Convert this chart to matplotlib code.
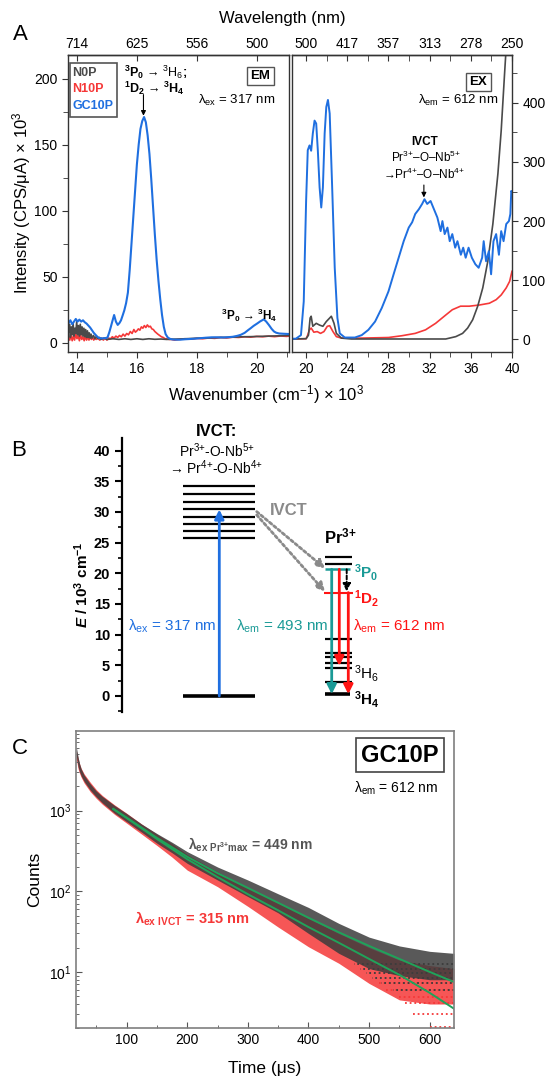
import matplotlib
matplotlib.use('Agg')
import matplotlib.pyplot as plt
from matplotlib.ticker import MultipleLocator, FixedLocator, NullLocator, LogLocator, NullFormatter
from matplotlib.patches import Rectangle

plt.rcParams['font.family'] = ['Liberation Sans', 'DejaVu Sans']
plt.rcParams['mathtext.fontset'] = 'custom'
plt.rcParams['mathtext.default'] = 'regular'
plt.rcParams['mathtext.rm'] = 'Liberation Sans'
plt.rcParams['mathtext.bf'] = 'Liberation Sans:bold'
plt.rcParams['mathtext.it'] = 'Liberation Sans:italic:bold'

# ---------------- DATA ----------------
# Panel A, emission (lambda_ex = 317 nm), wavenumber x 10^3 cm-1
em_gc10p_x = [13.72, 13.78, 13.84, 13.9, 13.96, 14.02, 14.08, 14.14, 14.2, 14.26, 14.32, 14.38, 14.44, 14.5,
              14.56, 14.62, 14.68, 14.75, 14.85, 14.95, 15.02, 15.08, 15.13, 15.19, 15.24, 15.3, 15.36, 15.42,
              15.47, 15.53, 15.58, 15.64, 15.7, 15.76, 15.82, 15.88, 15.94, 16.0, 16.06, 16.12, 16.18, 16.24,
              16.3, 16.36, 16.42, 16.48, 16.54, 16.6, 16.66, 16.72, 16.78, 16.84, 16.9, 16.96, 17.03, 17.1,
              17.18, 17.3, 17.45, 17.6, 17.75, 17.9, 18.1, 18.3, 18.5, 18.7, 18.9, 19.05, 19.2, 19.35, 19.47,
              19.6, 19.7, 19.8, 19.9, 20.02, 20.12, 20.24, 20.32, 20.41, 20.5, 20.58, 20.65, 20.75, 20.9, 21.08]
em_gc10p_y = [15, 17, 14, 16, 18, 16, 17.5, 16, 17, 15.5, 14.5, 13, 11.5, 9.5,
              7.5, 6, 4.5, 3.5, 3.3, 3.5, 4, 8, 12, 17, 21, 16, 13.5, 15,
              17, 21, 24.5, 30, 38, 55, 75, 95, 115, 135, 150, 162, 168, 171,
              167, 157, 143, 124, 103, 82, 63, 47, 33, 21, 12, 6.5, 4, 3,
              2.5, 2.3, 2.3, 2.6, 2.8, 3.0, 3.4, 3.8, 4.1, 4.1, 4.0, 4.2, 4.5, 5.2, 6.0,
              7.5, 9.3, 11, 12.8, 14.6, 16.2, 17.7, 16, 13.4, 10.5, 8.5, 7.6, 7.0, 6.8, 6.6]
em_n10p_x = [13.72, 13.76, 13.8, 13.84, 13.88, 13.92, 13.96, 14.0, 14.04, 14.08, 14.12, 14.16, 14.2, 14.24,
             14.28, 14.32, 14.36, 14.4, 14.44, 14.48, 14.52, 14.56, 14.6, 14.64, 14.7, 14.76, 14.82, 14.88,
             14.94, 15.0, 15.06, 15.12, 15.18, 15.24, 15.3, 15.36, 15.42, 15.48, 15.54, 15.6, 15.66, 15.72,
             15.78, 15.84, 15.9, 15.95, 16.0, 16.05, 16.1, 16.15, 16.2, 16.25, 16.3, 16.35, 16.4, 16.45,
             16.5, 16.55, 16.6, 16.65, 16.7, 16.76, 16.82, 16.88, 16.94, 17.0, 17.08, 17.16, 17.25, 17.4,
             17.6, 17.8, 18.0, 18.2, 18.4, 18.6, 18.8, 19.0, 19.2, 19.4, 19.6, 19.8, 20.0, 20.2, 20.4,
             20.6, 20.8, 21.0, 21.08]
em_n10p_y = [4, 2, 6, 1.5, 5, 2, 7, 3, 5.5, 1.5, 6, 2.5, 4.5, 1.5,
             5, 2, 4.5, 2, 5, 2.5, 4, 2, 4, 2.5, 3.5, 2, 3.5, 2,
             3.5, 2, 3.5, 3, 4.5, 3.5, 5, 4, 5.5, 4.5, 6.5, 5, 7, 6,
             8.5, 7, 10, 8, 9, 10.5, 9.5, 12, 11, 13, 11.5, 13.5, 12, 12.5,
             10.5, 10, 8.5, 7.5, 6.5, 5.5, 4.5, 4, 3, 3, 2.5, 2.5, 2, 2.5,
             3, 2.7, 3.3, 3, 3.6, 3.3, 4, 3.6, 4.2, 4, 4.5, 4.2, 4.8, 4.5, 5,
             4.6, 5.1, 4.8, 5]
em_n0p_x = [13.72, 13.75, 13.78, 13.81, 13.84, 13.87, 13.9, 13.93, 13.96, 13.99, 14.02, 14.05, 14.08, 14.11,
            14.14, 14.17, 14.2, 14.23, 14.26, 14.29, 14.32, 14.35, 14.38, 14.41, 14.44, 14.47, 14.5, 14.55,
            14.6, 14.65, 14.7, 14.75, 14.8, 14.9, 15.0, 15.2, 15.4, 15.6, 15.8, 16.0, 16.2, 16.4, 16.6,
            16.8, 17.0, 17.2, 17.4, 17.6, 17.8, 18.0, 18.3, 18.6, 18.9, 19.2, 19.5, 19.8, 20.1, 20.4, 20.7, 21.08]
em_n0p_y = [8, 14, 4, 12, 6, 15, 5, 11, 7, 16, 6, 13, 5, 14,
            6, 12, 5, 11, 4.5, 10, 4, 9, 4, 7.5, 3.5, 6.5, 3.5, 5.5,
            3, 5, 3, 4, 2.5, 3.5, 2.5, 3, 2.5, 3, 2.5, 3, 2.5, 3, 2.6,
            2.8, 2.5, 2.7, 2.8, 3, 3.2, 3.4, 3.5, 3.8, 4, 4.2, 4.5, 4.6, 4.8, 5, 5.2, 5.5]

# Panel A, excitation (lambda_em = 612 nm)
ex_gc10p_x = [18.6, 19.0, 19.5, 19.77, 20.0, 20.16, 20.33, 20.49, 20.65, 20.82, 20.98, 21.14, 21.31, 21.47,
              21.63, 21.8, 21.96, 22.12, 22.29, 22.52, 22.78, 23.04, 23.27, 23.76, 24.74, 25.4, 26.05, 26.7,
              27.35, 28.0, 28.5, 28.99, 29.48, 29.97, 30.3, 30.6, 30.95, 31.27, 31.5, 31.76, 32.09, 32.42,
              32.75, 33.07, 33.24, 33.46, 33.73, 33.95, 34.2, 34.48, 34.7, 35.03, 35.26, 35.5, 35.78, 36.1,
              36.44, 36.76, 37.1, 37.25, 37.48, 37.75, 37.97, 38.2, 38.46, 38.73, 38.95, 39.18, 39.44, 39.7,
              39.84, 39.93, 40.0]
ex_gc10p_y = [1, 1, 7, 64, 234, 320, 328, 319, 348, 370, 365, 319, 257, 223,
              257, 348, 393, 405, 382, 263, 121, 36, 10, 3, 3, 7, 16, 30,
              53, 81, 110, 138, 166, 189, 198, 212, 220, 229, 237, 229, 234, 220,
              206, 183, 200, 178, 189, 166, 178, 155, 166, 143, 155, 138, 155, 138,
              127, 121, 138, 166, 132, 149, 110, 166, 178, 143, 183, 166, 195, 200,
              212, 251, 249]
ex_n0p_x = [18.6, 20.0, 20.23, 20.39, 20.49, 20.65, 20.98, 21.31, 21.63, 21.96, 22.29, 22.45, 22.71, 22.94,
            23.43, 24.4, 33.56, 34.54, 35.2, 35.69, 36.18, 36.67, 37.16, 37.65, 38.14, 38.63, 38.95, 39.28,
            39.44, 39.77]
ex_n0p_y = [0.5, 1, 7, 36, 39, 22, 27, 24, 22, 30, 36, 39, 27, 10,
            2, 0.5, 0.5, 4.5, 10, 19, 33, 56, 87, 132, 195, 280, 353, 450,
            495, 575]
ex_n10p_x = [18.6, 20.0, 20.1, 20.33, 20.49, 20.75, 21.08, 21.4, 21.73, 22.06, 22.29, 22.61, 22.94, 23.43,
             25.4, 28.0, 29.3, 30.6, 31.6, 32.58, 33.56, 34.2, 35.0, 35.85, 36.83, 37.8, 38.46, 38.95,
             39.44, 39.77, 40.0]
ex_n10p_y = [0.5, 1, 4.5, 16, 19, 12, 13, 10, 13, 22, 23, 13, 4.5, 2,
             2, 3, 6, 10, 16, 27, 41, 50, 56, 56, 58, 61, 67, 75,
             87, 98, 115]

em_ticks = [14, 16, 18, 20]
em_wl_labels = ['714', '625', '556', '500']
ex_ticks = [20, 24, 28, 32, 36, 40]
ex_wl_labels = ['500', '417', '357', '313', '278', '250']

# Panel B, energy levels (10^3 cm-1)
ivct_levels = [34.2, 32.9, 31.6, 30.4, 29.2, 28.0, 26.9, 25.8]
ground_level = 0.0
pr_levels = [22.7, 21.5, 9.24, 6.96, 6.41, 5.43, 4.51, 2.34]
pr_3P0 = 20.65
pr_1D2 = 16.85
pr_3H4 = 0.3
pr_3H6_arrow_end = 4.9
ivct_pump_top = 30.4

# Panel C, decay (counts vs time in us)
t_env = [17, 20, 22, 25, 30, 40, 50, 60, 80, 100, 125, 150, 175, 200, 250, 300, 350, 400, 450, 500, 550, 600, 640]
gray_hi = [6200, 4600, 3900, 3300, 2750, 2150, 1750, 1500, 1160, 920, 680, 520, 405, 310, 200, 138, 93, 63, 40, 27, 21, 18, 17]
gray_lo = [4800, 3500, 3100, 2700, 2300, 1800, 1480, 1250, 930, 730, 540, 395, 300, 222, 138, 86, 54, 30, 17, 11, 9, 8, 8]
red_hi = [5600, 4500, 3900, 3350, 2850, 2250, 1820, 1540, 1180, 930, 680, 510, 390, 285, 175, 112, 72, 46, 30, 20, 14, 12, 11]
red_lo = [4400, 3300, 2950, 2600, 2200, 1720, 1420, 1200, 900, 700, 510, 370, 265, 183, 114, 65, 36, 20.5, 12.8, 7.2, 4.5, 4, 4]
gray_rows = [6.0, 7.2, 8.4, 9.6, 11.0, 12.5]
gray_row_start = [540, 520, 505, 495, 485, 475]
red_rows = [2.05, 3.0, 4.1, 4.9, 6.0, 7.2]
red_row_start = [600, 572, 559, 550, 528, 517]
t_fit = [78, 100, 150, 200, 250, 300, 350, 400, 450, 500, 550, 600, 640]
fit_449 = [1050, 820, 460, 268, 168, 110, 72, 47, 31, 21, 14.5, 10, 7.5]
fit_315 = [1050, 810, 445, 250, 150, 92, 58, 36, 23, 14.5, 9.2, 5.5, 3.5]

# ---------------- STYLE / LAYOUT ----------------
C_GRAY = '#4a4a4a'
C_RED = '#f53838'
C_BLUE = '#1f6fe0'
C_TEAL = '#1a9a96'
C_BRED = '#ff1414'
C_GREEN = '#20a35a'

W, H = 550, 1089
fig = plt.figure(figsize=(W / 100, H / 100), dpi=100)


def rect(l, t, r, b):
    return [l / W, 1 - b / H, (r - l) / W, (b - t) / H]


def ftext(x, y, s, **kw):
    kw.setdefault('ha', 'left')
    kw.setdefault('va', 'center')
    return fig.text(x / W, 1 - y / H, s, **kw)


# ================= PANEL A =================
axEM = fig.add_axes(rect(68, 55, 289, 351.7))
axEX = fig.add_axes(rect(291.7, 55, 512, 351.7))
for ax in (axEM, axEX):
    for s in ax.spines.values():
        s.set_linewidth(1.0)
        s.set_color('#333333')

axEM.plot(em_n10p_x, em_n10p_y, color=C_RED, lw=1.2)
axEM.plot(em_n0p_x, em_n0p_y, color=C_GRAY, lw=1.2)
axEM.plot(em_gc10p_x, em_gc10p_y, color=C_BLUE, lw=1.5)
axEM.set_xlim(13.7, 21.08)
axEM.set_ylim(-6.8, 218)
axEM.xaxis.set_major_locator(FixedLocator(em_ticks))
axEM.xaxis.set_minor_locator(MultipleLocator(1))
axEM.yaxis.set_major_locator(MultipleLocator(50))
axEM.yaxis.set_minor_locator(MultipleLocator(25))
axEM.tick_params(which='both', direction='out', labelsize=10, color='#333333')
axEM.tick_params(which='major', length=4)
axEM.tick_params(which='minor', length=3.5)

axEX.plot(ex_n10p_x, ex_n10p_y, color=C_RED, lw=1.2)
axEX.plot(ex_n0p_x, ex_n0p_y, color=C_GRAY, lw=1.2)
axEX.plot(ex_gc10p_x, ex_gc10p_y, color=C_BLUE, lw=1.4)
axEX.set_xlim(18.6, 40)
axEX.set_ylim(-21, 481)
axEX.xaxis.set_major_locator(FixedLocator(ex_ticks))
axEX.xaxis.set_minor_locator(FixedLocator([22, 26, 30, 34, 38]))
axEX.yaxis.tick_right()
axEX.yaxis.set_major_locator(MultipleLocator(100))
axEX.yaxis.set_minor_locator(MultipleLocator(50))
axEX.tick_params(which='both', direction='out', labelsize=10, color='#333333')
axEX.tick_params(which='major', length=4)
axEX.tick_params(which='minor', length=3.5)

for ax, tks, labs, mins in ((axEM, em_ticks, em_wl_labels, []),
                            (axEX, ex_ticks, ex_wl_labels, [22, 26, 30, 34, 38])):
    sec = ax.secondary_xaxis('top')
    sec.set_ticks(tks, labels=labs)
    sec.xaxis.set_minor_locator(FixedLocator(mins) if mins else NullLocator())
    sec.tick_params(which='both', direction='in', labelsize=10, length=4, color='#333333', pad=3)
    sec.spines['top'].set_linewidth(1.0)
    sec.spines['top'].set_color('#333333')

ftext(20, 35, 'A', fontsize=16, ha='center')
ftext(282, 19, 'Wavelength (nm)', fontsize=12, ha='center')
ftext(266, 395, 'Wavenumber (cm$^{-1}$) × 10$^{3}$', fontsize=12, ha='center')
ftext(22, 203, 'Intensity (CPS/μA) × 10$^{3}$', fontsize=12, ha='center', rotation=90)

# EM legend box
fig.patches.append(Rectangle((70 / W, 1 - 117 / H), 47 / W, 54 / H, transform=fig.transFigure,
                             fill=False, edgecolor='#555555', lw=1.2))
for yy, lab, col in ((73, 'N0P', C_GRAY), (89.5, 'N10P', C_RED), (106, 'GC10P', C_BLUE)):
    ftext(72.5, yy, lab, fontsize=9, fontweight='bold', color=col)

ftext(124, 72, '$^{3}$P$_{0}$ → $\\mathrm{^{3}H_{6}}$;', fontsize=9, fontweight='bold')
ftext(124, 88.5, '$^{1}$D$_{2}$ → $^{3}$H$_{4}$', fontsize=9, fontweight='bold')
axEM.annotate('', xy=(16.22, 172), xytext=(16.22, 188),
              arrowprops=dict(arrowstyle='-|>', lw=0.8, color='k', mutation_scale=7, shrinkA=0, shrinkB=0))
ftext(260.5, 76, 'EM', fontsize=9.5, fontweight='bold', ha='center',
      bbox=dict(boxstyle='square,pad=0.25', fc='white', ec='#555555', lw=1))
ftext(275, 100, 'λ$_{ex}$ = 317 nm', fontsize=9.5, ha='right')
ftext(221, 315, '$^{3}$P$_{0}$ → $^{3}$H$_{4}$', fontsize=8.5, fontweight='bold')

ftext(478.5, 82, 'EX', fontsize=9.5, fontweight='bold', ha='center',
      bbox=dict(boxstyle='square,pad=0.25', fc='white', ec='#555555', lw=1))
ftext(498, 100, 'λ$_{em}$ = 612 nm', fontsize=9.5, ha='right')
ftext(424.5, 142, 'IVCT', fontsize=8.5, fontweight='bold', ha='center')
ftext(425.5, 157, 'Pr$^{3{+}}$–O–Nb$^{5{+}}$', fontsize=8.5, ha='center')
ftext(423.8, 174, '→Pr$^{4{+}}$–O–Nb$^{4{+}}$', fontsize=8.5, ha='center')
axEX.annotate('', xy=(31.44, 240), xytext=(31.44, 261),
              arrowprops=dict(arrowstyle='-|>', lw=0.8, color='k', mutation_scale=7, shrinkA=0, shrinkB=0))

# ================= PANEL B =================
axB = fig.add_axes(rect(121.7, 438.3, 550, 711.7))
axB.patch.set_alpha(0)
axB.set_xlim(121.7, 550)
axB.set_ylim(-2.56, 42.0)
for k in ('top', 'right', 'bottom'):
    axB.spines[k].set_visible(False)
axB.spines['left'].set_linewidth(1.6)
axB.set_xticks([])
axB.yaxis.set_major_locator(MultipleLocator(5))
axB.yaxis.set_minor_locator(MultipleLocator(2.5))
axB.tick_params(axis='y', which='major', direction='out', length=5, width=1.5, labelsize=10.5)
axB.tick_params(axis='y', which='minor', direction='out', length=3, width=1.2)
for lbl in axB.get_yticklabels():
    lbl.set_fontweight('bold')

IVCT_X = (182.7, 255)
PR_X = (325, 352.3)
axB.hlines(ivct_levels, IVCT_X[0], IVCT_X[1], color='k', lw=1.6)
axB.hlines([ground_level], IVCT_X[0], IVCT_X[1], color='k', lw=2.6)
axB.hlines(pr_levels, PR_X[0], PR_X[1], color='k', lw=1.6)
axB.hlines([pr_3H4], PR_X[0], PR_X[1] - 2, color='k', lw=2.6)
axB.hlines([pr_3P0], PR_X[0], PR_X[1] - 2, color=C_TEAL, lw=1.8)
axB.hlines([pr_1D2], PR_X[0] - 1, PR_X[1] + 1, color=C_BRED, lw=1.5)


def b_arrow(x0, y0, x1, y1, color, ls='-', lw=2.0, ms=11):
    axB.annotate('', xy=(x1, y1), xytext=(x0, y0),
                 arrowprops=dict(arrowstyle='-|>,head_length=0.5,head_width=0.25', color=color, lw=lw,
                                 linestyle=ls, shrinkA=0, shrinkB=0, mutation_scale=ms))


b_arrow(219.3, ground_level, 219.3, ivct_pump_top, C_BLUE)
b_arrow(331.7, pr_3P0, 331.7, pr_3H4, C_TEAL)
b_arrow(339.3, pr_3P0, 339.3, pr_3H6_arrow_end, C_BRED)
b_arrow(346.7, pr_3P0, 346.7, pr_1D2 + 0.2, 'k', ls=(0, (2, 1.2)), lw=1.4, ms=9)
b_arrow(348.3, pr_1D2, 348.3, pr_3H4, C_BRED)
b_arrow(256.7, 30.05, 325, pr_3P0 + 0.15, '#8a8a8a', ls=(0, (1, 1)), lw=2.0, ms=10)
b_arrow(256.7, 29.5, 325, pr_1D2 + 0.15, '#8a8a8a', ls=(0, (1, 1)), lw=2.0, ms=10)

ftext(19, 450, 'B', fontsize=16, ha='center')
ftext(82, 585, '$\\mathit{E}$ / 10$^{3}$ cm$^{-1}$', fontsize=11, fontweight='bold', ha='center', rotation=90)
ftext(216.7, 431.7, 'IVCT:', fontsize=12, fontweight='bold', ha='center')
ftext(216.7, 450.7, 'Pr$^{3{+}}$-O-Nb$^{5{+}}$', fontsize=10, ha='center')
ftext(216.3, 467.3, '→ Pr$^{4{+}}$-O-Nb$^{4{+}}$', fontsize=10, ha='center')
ftext(270, 510.7, 'IVCT', fontsize=12, fontweight='bold', color='#8a8a8a')
ftext(340, 536.7, 'Pr$^{3{+}}$', fontsize=12, fontweight='bold', ha='center')
ftext(354, 572.7, '$^{3}$P$_{0}$', fontsize=11, fontweight='bold', color=C_TEAL)
ftext(354, 598.3, '$^{1}$D$_{2}$', fontsize=11, fontweight='bold', color=C_BRED)
ftext(354, 673.3, '$^{3}$H$_{6}$', fontsize=11, color='k')
ftext(354, 700, '$^{3}$H$_{4}$', fontsize=11, fontweight='bold', color='k')
ftext(216.7, 626.7, 'λ$_{ex}$ = 317 nm', fontsize=11, color=C_BLUE, ha='right')
ftext(328.3, 626.7, 'λ$_{em}$ = 493 nm', fontsize=11, color=C_TEAL, ha='right')
ftext(353.3, 626.7, 'λ$_{em}$ = 612 nm', fontsize=11, color=C_BRED)

# ================= PANEL C =================
axC = fig.add_axes(rect(76, 731, 454, 1028.3))
axC.set_yscale('log')
axC.fill_between(t_env, red_lo, red_hi, color=C_RED, lw=0, alpha=0.85)
for lvl, t0 in zip(red_rows, red_row_start):
    axC.hlines(lvl, t0, 640, color=C_RED, lw=1.3, linestyles=(0, (1, 1.6)))
axC.fill_between(t_env, gray_lo, gray_hi, color='#3c3c3c', lw=0, alpha=0.85)
for lvl, t0 in zip(gray_rows, gray_row_start):
    axC.hlines(lvl, t0, 640, color='#3c3c3c', lw=1.3, linestyles=(0.8, (1, 1.6)))
axC.plot(t_fit, fit_449, color=C_GREEN, lw=1.4)
axC.plot(t_fit, fit_315, color=C_GREEN, lw=1.4)
axC.set_xlim(16.5, 640)
axC.set_ylim(2.0, 9720)
axC.xaxis.set_major_locator(MultipleLocator(100))
axC.xaxis.set_minor_locator(MultipleLocator(50))
axC.yaxis.set_major_locator(LogLocator(base=10, numticks=10))
axC.yaxis.set_minor_locator(LogLocator(base=10, subs=[2, 3, 4, 5, 6, 7, 8, 9], numticks=10))
axC.yaxis.set_minor_formatter(NullFormatter())
axC.tick_params(which='both', direction='in', labelsize=10, color='#555555')
axC.tick_params(which='major', length=4)
axC.tick_params(which='minor', length=2.5)
for s in axC.spines.values():
    s.set_color('#7f7f7f')
    s.set_linewidth(1.2)

ftext(20, 748, 'C', fontsize=16, ha='center')
ftext(35, 879, 'Counts', fontsize=12.5, ha='center', rotation=90)
ftext(265, 1068, 'Time (μs)', fontsize=12.5, ha='center')
ftext(400, 755, 'GC10P', fontsize=17, fontweight='bold', ha='center',
      bbox=dict(boxstyle='square,pad=0.22', fc='white', ec='#444444', lw=1.2))
ftext(438, 788, 'λ$_{em}$ = 612 nm', fontsize=10, ha='right')
ftext(187.7, 845, 'λ$_{ex\\ Pr^{3{+}}max}$ = 449 nm', fontsize=10, fontweight='bold', color='#555555')
ftext(135, 919, 'λ$_{ex\\ IVCT}$ = 315 nm', fontsize=10.5, fontweight='bold', color=C_RED)

fig.savefig('out.png', dpi=100)
